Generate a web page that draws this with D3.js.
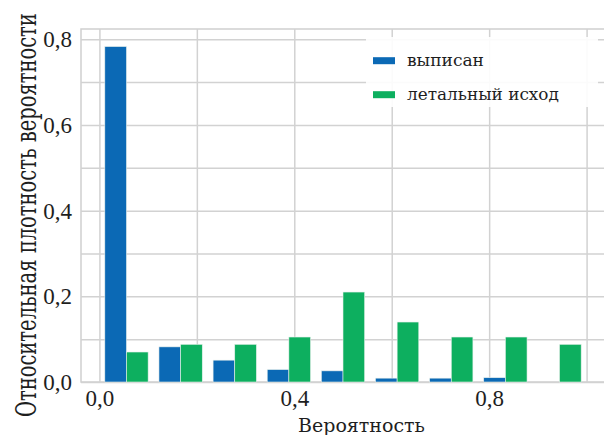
<!DOCTYPE html>
<html>
<head>
<meta charset="utf-8">
<script src="https://cdn.jsdelivr.net/npm/d3@7"></script>
<style>
  html, body { margin: 0; padding: 0; background: #fff; }
  svg { display: block; }
</style>
</head>
<body>
<svg id="chart" width="604" height="435"></svg>
<script>
// Histogram bins: lower edge of each of the 9 bins over [0, 1]
const binEdges = [0, 1/9, 2/9, 3/9, 4/9, 5/9, 6/9, 7/9, 8/9];
const binWidth = 1 / 9;

// Relative probability per bin for each outcome
const seriesNames = ["выписан", "летальный исход"];
const discharged = [0.783, 0.082, 0.051, 0.029, 0.026, 0.009, 0.009, 0.010, 0.0];
const lethal = [0.070, 0.088, 0.088, 0.105, 0.210, 0.140, 0.105, 0.105, 0.088];

// Axis ticks
const yTicks = [0.0, 0.2, 0.4, 0.6, 0.8];
const yGrid = [0.0, 0.1, 0.2, 0.3, 0.4, 0.5, 0.6, 0.7, 0.8];
const xTicks = [0.0, 0.4, 0.8];
const xGrid = [0.0, 0.2, 0.4, 0.6, 0.8, 1.0];

const colors = ["#0b69b5", "#0daf5f"];
const digitFont = "'Liberation Serif', 'Times New Roman', serif";
const textFont = "'DejaVu Serif', 'Liberation Serif', serif";
const ink = "#1e1e1e";

const svg = d3.select("#chart");
const plotL = 81, plotR = 605, plotT = 29, plotB = 382;

const x = d3.scaleLinear().domain([-0.0378, 1.0378]).range([plotL, plotR]);
const y = d3.scaleLinear().domain([0, 0.824]).range([plotB, plotT]);

const ru = d3.formatLocale({ decimal: ",", thousands: " ", grouping: [3], currency: ["", " ₽"] });
const fmt = ru.format(".1f");

// Text condensed horizontally to a given run length
function fittedText(parent, str, tx, ty, angle, size, width) {
  const g = parent.append("g").attr("transform", `translate(${tx},${ty}) rotate(${angle})`);
  const t = g.append("text")
    .attr("font-family", textFont).attr("font-size", size).attr("fill", ink)
    .text(str);
  const natural = t.node().getComputedTextLength();
  t.attr("transform", `scale(${width / natural},1)`);
  return t;
}

// Frame
svg.append("rect")
  .attr("x", plotL).attr("y", plotT)
  .attr("width", plotR - plotL).attr("height", plotB - plotT)
  .attr("fill", "#fff").attr("stroke", "#cfcfcf").attr("stroke-width", 1.5);

// Grid lines
const gridG = svg.append("g");
gridG.append("g")
  .attr("transform", `translate(${plotL},0)`)
  .call(d3.axisLeft(y).tickValues(yGrid).tickSize(-(plotR - plotL)).tickFormat(""))
  .call(g => g.select(".domain").remove())
  .call(g => g.selectAll("line").attr("stroke", "#d2d2d2").attr("stroke-width", 1.5));
gridG.append("g")
  .attr("transform", `translate(0,${plotB})`)
  .call(d3.axisBottom(x).tickValues(xGrid).tickSize(-(plotB - plotT)).tickFormat(""))
  .call(g => g.select(".domain").remove())
  .call(g => g.selectAll("line").attr("stroke", "#d2d2d2").attr("stroke-width", 1.5));

// Bars: two dodged bars per bin, shrunk to 80% of the bin width
const shrink = 0.8;
const half = binWidth * shrink / 2;
[discharged, lethal].forEach((vals, s) => {
  svg.append("g").selectAll("rect")
    .data(vals.map((v, i) => ({ v, x0: binEdges[i] + binWidth * (1 - shrink) / 2 + s * half })))
    .join("rect")
    .attr("x", d => x(d.x0))
    .attr("width", d => x(d.x0 + half) - x(d.x0))
    .attr("y", d => y(d.v))
    .attr("height", d => y(0) - y(d.v))
    .attr("fill", colors[s])
    .attr("stroke", d => d.v > 0 ? "#e8f0ec" : "none")
    .attr("stroke-width", 0.6);
});

// Y axis labels
svg.append("g")
  .attr("transform", `translate(${plotL},0)`)
  .call(d3.axisLeft(y).tickValues(yTicks).tickSize(0).tickPadding(9).tickFormat(fmt))
  .call(g => g.select(".domain").remove())
  .call(g => g.selectAll("text").attr("font-size", 23).attr("fill", ink).attr("font-family", digitFont));

// X axis labels
svg.append("g")
  .attr("transform", `translate(0,${plotB})`)
  .call(d3.axisBottom(x).tickValues(xTicks).tickSize(0).tickPadding(8).tickFormat(fmt))
  .call(g => g.select(".domain").remove())
  .call(g => g.selectAll("text").attr("font-size", 23).attr("fill", ink).attr("font-family", digitFont));

// Axis titles
fittedText(svg, "Вероятность", 298, 431.5, 0, 19, 127);
fittedText(svg, "Относительная плотность вероятности", 35.5, 417, -90, 28, 404);

// Legend
const legendWidths = [77, 152];
const lg = svg.append("g");
lg.append("rect")
  .attr("x", 366).attr("y", 37).attr("width", 232).attr("height", 70)
  .attr("fill", "#fff").attr("fill-opacity", 0.9);
seriesNames.forEach((name, i) => {
  const yy = 60.7 + i * 34;
  lg.append("rect")
    .attr("x", 373).attr("y", yy - 3.5).attr("width", 22).attr("height", 7)
    .attr("fill", colors[i]);
  fittedText(lg, name, 407, yy + 5.5, 0, 17, legendWidths[i]);
});
</script>
</body>
</html>
